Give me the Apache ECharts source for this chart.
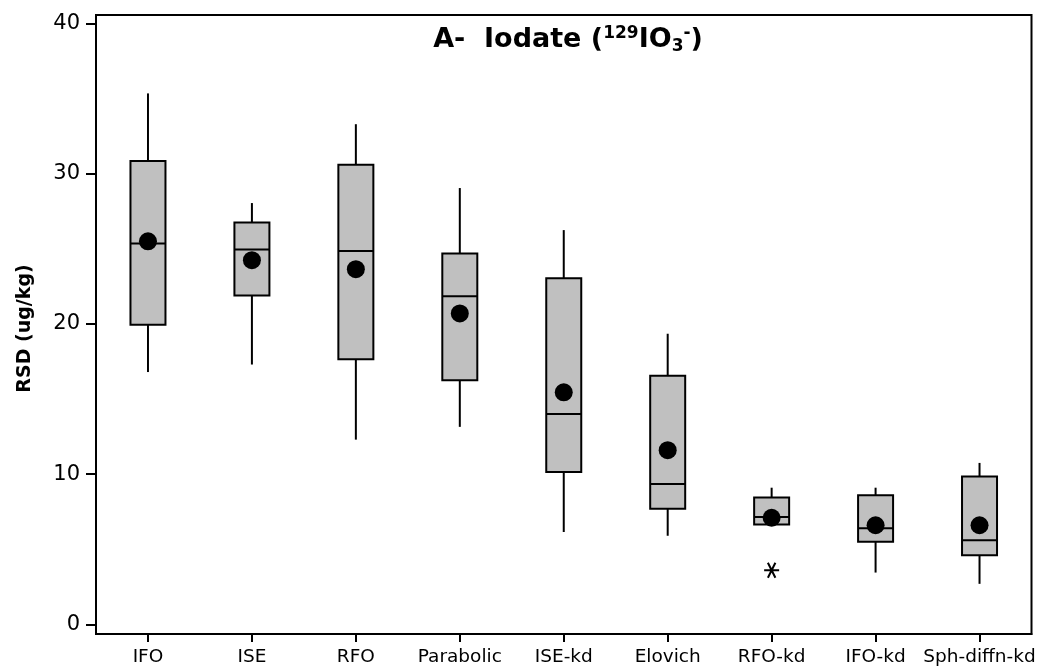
<!DOCTYPE html>
<html>
<head>
<meta charset="utf-8">
<script src="https://cdn.jsdelivr.net/npm/echarts@6/dist/echarts.min.js"></script>
<style>html,body{margin:0;padding:0;background:#fff}#c{width:1039px;height:669px}</style>
</head>
<body>
<div id="c"></div>
<script>
const categories = ['IFO','ISE','RFO','Parabolic','ISE-kd','Elovich','RFO-kd','IFO-kd','Sph-diffn-kd'];
// [whisker low, Q1, median, Q3, whisker high]
const boxValues = [
  [16.8, 19.95, 25.35, 30.85, 35.35],
  [17.3, 21.9, 24.95, 26.75, 28.05],
  [12.3, 17.65, 24.85, 30.6, 33.3],
  [13.15, 16.25, 21.85, 24.7, 29.05],
  [6.15, 10.15, 14.0, 23.05, 26.25],
  [5.9, 7.7, 9.35, 16.55, 19.35],
  [6.65, 6.65, 7.15, 8.45, 9.1],
  [3.45, 5.5, 6.4, 8.6, 9.1],
  [2.7, 4.6, 5.6, 9.85, 10.75]
];
const means = [25.5, 24.25, 23.65, 20.7, 15.45, 11.6, 7.1, 6.6, 6.6];
const outliers = [['RFO-kd', 3.6]];
const yTicks = [0, 10, 20, 30, 40];

const boxData = boxValues.map((v, i) => [i].concat(v));
const font = 'DejaVu Sans';

const chart = echarts.init(document.getElementById('c'), null, {renderer: 'canvas'});
chart.setOption({
  animation: false,
  backgroundColor: '#fff',
  title: {
    text: '{b|A-  Iodate (}{sup|129}{b|IO}{sub|3}{sup|-}{b|)}',
    left: 563, textAlign: 'center', top: 20,
    textStyle: {
      fontFamily: font, fontWeight: 'bold', fontSize: 27, color: '#000',
      rich: {
        b: {fontFamily: font, fontWeight: 'bold', fontSize: 27, color: '#000'},
        sup: {fontFamily: font, fontWeight: 'bold', fontSize: 17, color: '#000', padding: [0,0,12,0]},
        sub: {fontFamily: font, fontWeight: 'bold', fontSize: 17, color: '#000', padding: [13,0,0,0]}
      }
    }
  },
  grid: {left: 96, right: 7.5, top: 15, bottom: 35, show: true, borderColor: '#000', borderWidth: 2, backgroundColor: 'transparent'},
  xAxis: {
    type: 'category', data: categories, boundaryGap: true,
    axisLine: {show: true, onZero: false, lineStyle: {color: '#000', width: 2}},
    axisTick: {show: true, alignWithLabel: true, length: 8, lineStyle: {color: '#000', width: 2}},
    axisLabel: {color: '#000', fontFamily: font, fontSize: 18.5, margin: 14, interval: 0},
    splitLine: {show: false}
  },
  yAxis: {
    type: 'value', min: -0.64, max: 40.57,
    name: 'RSD (ug/kg)', nameLocation: 'middle', nameGap: 61,
    nameTextStyle: {fontFamily: font, fontWeight: 'bold', fontSize: 19, color: '#000', padding: [0, 8, 0, 0]},
    axisLine: {show: true, lineStyle: {color: '#000', width: 2}},
    axisTick: {show: true, length: 10, customValues: yTicks, lineStyle: {color: '#000', width: 2}},
    axisLabel: {color: '#000', fontFamily: font, fontSize: 21, margin: 16, customValues: yTicks},
    splitLine: {show: false}
  },
  series: [
    {
      type: 'custom',
      data: boxData,
      encode: {x: 0, y: [1,2,3,4,5]},
      clip: false,
      renderItem: function (params, api) {
        const i = api.value(0);
        const pLow = api.coord([i, api.value(1)]);
        const pQ1 = api.coord([i, api.value(2)]);
        const pMed = api.coord([i, api.value(3)]);
        const pQ3 = api.coord([i, api.value(4)]);
        const pHigh = api.coord([i, api.value(5)]);
        const w = 35;
        const x = pQ1[0];
        const ls = {stroke: '#000', lineWidth: 2};
        return {
          type: 'group',
          children: [
            {type: 'line', shape: {x1: x, y1: pLow[1], x2: x, y2: pQ1[1]}, style: ls},
            {type: 'line', shape: {x1: x, y1: pQ3[1], x2: x, y2: pHigh[1]}, style: ls},
            {type: 'rect', shape: {x: x - w/2, y: pQ3[1], width: w, height: pQ1[1] - pQ3[1]}, style: {fill: '#c0c0c0', stroke: '#000', lineWidth: 2}},
            {type: 'line', shape: {x1: x - w/2, y1: pMed[1], x2: x + w/2, y2: pMed[1]}, style: ls}
          ]
        };
      },
      z: 2
    },
    {
      type: 'scatter',
      data: means.map((m, i) => [i, m]),
      symbol: 'circle', symbolSize: 18,
      itemStyle: {color: '#000', opacity: 1},
      z: 3
    },
    {
      type: 'scatter',
      data: outliers,
      symbol: 'path://M0,10 L20,10 M5,1.34 L15,18.66 M15,1.34 L5,18.66',
      symbolSize: 15,
      itemStyle: {color: 'transparent', borderColor: '#000', borderWidth: 2, opacity: 1},
      z: 3
    }
  ]
});
</script>
</body>
</html>
